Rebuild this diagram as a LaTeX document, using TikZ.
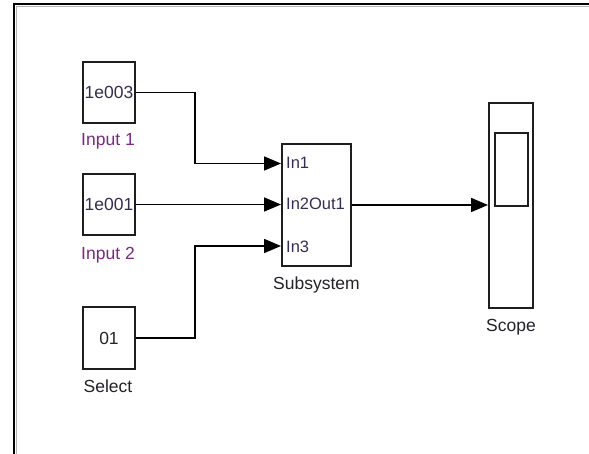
\documentclass[tikz,border=0pt]{standalone}
\usepackage{fontspec}
\setmainfont{Liberation Sans}
\usetikzlibrary{arrows.meta}
\definecolor{lblpurple}{RGB}{125,40,130}
\definecolor{txtdark}{RGB}{55,45,80}
\definecolor{txtblack}{RGB}{35,35,40}
\definecolor{edge}{RGB}{30,30,30}
\tikzset{
  x=1pt, y=-1pt,
  blk/.style={draw=edge, line width=2pt, fill=white, inner sep=0pt, font=\fontsize{17.5}{19}\selectfont, text=txtdark},
  lbl/.style={inner sep=0pt, anchor=base, font=\fontsize{17.5}{19}\selectfont, text=txtblack},
  inlbl/.style={lbl, text=lblpurple},
  port/.style={inner sep=0pt, font=\fontsize{16.5}{18}\selectfont, text=txtdark},
  conn/.style={draw=black, line width=1.8pt, -{Triangle[length=17pt,width=14pt]}},
}
\begin{document}
\begin{tikzpicture}
\useasboundingbox (0,0) rectangle (589,454);
\fill[white] (0,0) rectangle (589,454);
% frame
\draw[line width=2.4pt, black] (14,454) -- (14,4) -- (589,4);
\draw[line width=0.8pt, gray!60] (16,454) -- (16,6) -- (589,6);

% source blocks
\node[blk, minimum width=52pt, minimum height=61pt] (in1) at (109,92.5) {1e003};
\node[blk, minimum width=52pt, minimum height=61pt] (in2) at (109,204.5) {1e001};
\node[blk, minimum width=52pt, minimum height=62pt, text=txtblack] (sel) at (109,338) {01};
\node[inlbl] (l1) at (108,146) {Input 1};
\node[inlbl] (l2) at (108,260) {Input 2};
\node[lbl] (l3) at (108,392) {Select};

% subsystem
\node[blk, minimum width=69pt, minimum height=122pt] (sub) at (316.5,205) {};
\node[port, anchor=base west] (pin1) at (286,169) {In1};
\node[port, anchor=base west] (pin2) at (286,210) {In2};
\node[port, anchor=base east] (pout) at (345,210) {Out1};
\node[port, anchor=base west] (pin3) at (286,253) {In3};
\node[lbl] (lsub) at (316.5,290) {Subsystem};

% scope
\node[blk, minimum width=44pt, minimum height=205pt] (scope) at (511,205.5) {};
\node[draw=edge, line width=2pt, inner sep=0pt, minimum width=33pt, minimum height=73pt] (screen) at (511.5,169.5) {};
\node[lbl] (lscope) at (511,331) {Scope};

% ports and bends
\coordinate (p1) at (sub.west |- 0,163.5);
\coordinate (p2) at (sub.west |- 0,204.5);
\coordinate (p3) at (sub.west |- 0,246);
\coordinate (b1) at (195,130);
\coordinate (b3) at (195,300);
\coordinate (so) at (scope.west |- 0,205);

% connectors
\draw[conn] (in1.east) -| (b1) |- (p1);
\draw[conn] (in2.east) -- (p2);
\draw[conn] (sel.east) -| (b3) |- (p3);
\draw[conn] (sub.east |- so) -- (so);
\end{tikzpicture}
\end{document}
